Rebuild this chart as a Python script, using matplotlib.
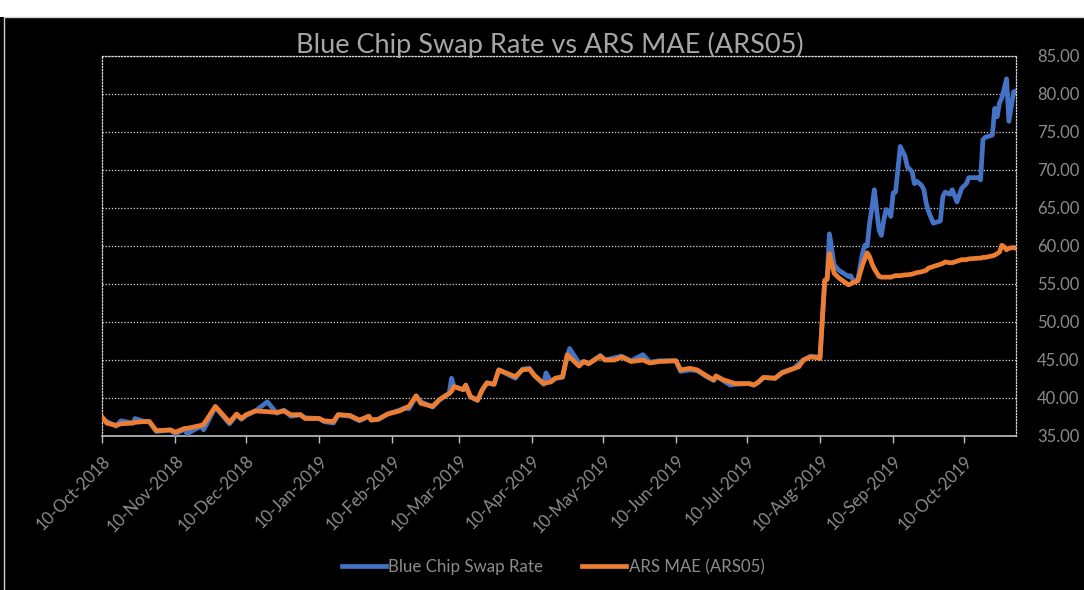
import matplotlib
matplotlib.use("Agg")
import matplotlib.pyplot as plt
import matplotlib.dates as mdates
from matplotlib.patches import Rectangle
import pandas as pd

# values
dates = [
    "2018-10-10", "2018-10-12", "2018-10-16", "2018-10-18", "2018-10-23", "2018-10-24",
    "2018-10-28", "2018-10-30", "2018-11-02", "2018-11-08", "2018-11-10", "2018-11-14",
    "2018-11-15", "2018-11-21", "2018-11-22", "2018-11-27", "2018-12-03", "2018-12-06",
    "2018-12-08", "2018-12-10", "2018-12-14", "2018-12-19", "2018-12-23", "2018-12-26",
    "2018-12-29", "2019-01-02", "2019-01-04", "2019-01-10", "2019-01-12", "2019-01-16",
    "2019-01-18", "2019-01-23", "2019-01-27", "2019-01-31", "2019-02-01", "2019-02-04",
    "2019-02-08", "2019-02-13", "2019-02-15", "2019-02-17", "2019-02-20", "2019-02-22",
    "2019-02-27", "2019-03-02", "2019-03-06", "2019-03-07", "2019-03-08", "2019-03-12",
    "2019-03-13", "2019-03-15", "2019-03-18", "2019-03-20", "2019-03-22", "2019-03-25",
    "2019-03-27", "2019-04-03", "2019-04-06", "2019-04-09", "2019-04-11", "2019-04-15",
    "2019-04-16", "2019-04-18", "2019-04-20", "2019-04-23", "2019-04-25", "2019-04-26",
    "2019-04-30", "2019-05-02", "2019-05-04", "2019-05-09", "2019-05-11", "2019-05-15",
    "2019-05-18", "2019-05-22", "2019-05-27", "2019-05-30", "2019-06-03", "2019-06-10",
    "2019-06-12", "2019-06-16", "2019-06-19", "2019-06-23", "2019-06-26", "2019-06-27",
    "2019-06-30", "2019-07-03", "2019-07-05", "2019-07-11", "2019-07-13", "2019-07-15",
    "2019-07-17", "2019-07-22", "2019-07-25", "2019-07-30", "2019-08-01", "2019-08-03",
    "2019-08-06", "2019-08-09", "2019-08-10", "2019-08-12", "2019-08-13", "2019-08-14",
    "2019-08-16", "2019-08-18", "2019-08-22", "2019-08-23", "2019-08-24", "2019-08-26",
    "2019-08-28", "2019-08-29", "2019-08-30", "2019-08-31", "2019-09-01", "2019-09-02",
    "2019-09-04", "2019-09-05", "2019-09-06", "2019-09-07", "2019-09-08", "2019-09-09",
    "2019-09-10", "2019-09-11", "2019-09-13", "2019-09-15", "2019-09-16", "2019-09-18",
    "2019-09-19", "2019-09-20", "2019-09-22", "2019-09-23", "2019-09-24", "2019-09-25",
    "2019-09-27", "2019-09-30", "2019-10-01", "2019-10-02", "2019-10-04", "2019-10-05",
    "2019-10-07", "2019-10-09", "2019-10-11", "2019-10-12", "2019-10-16", "2019-10-17",
    "2019-10-18", "2019-10-19", "2019-10-22", "2019-10-23", "2019-10-24", "2019-10-25",
    "2019-10-26", "2019-10-27", "2019-10-28", "2019-10-29", "2019-10-31", "2019-11-01",
]
blue_chip = [
    37.4, 36.9, 36.3, 37.0, 36.7, 37.3, 36.9, 36.9, 35.6, 35.8, 35.3, 35.9,
    35.3, 36.3, 35.8, 38.8, 36.6, 37.8, 37.2, 37.7, 38.3, 39.5, 38.0, 38.4,
    37.6, 37.8, 37.4, 37.3, 36.9, 36.7, 37.8, 37.6, 37.0, 37.6, 37.1, 37.2,
    37.9, 38.4, 38.7, 38.6, 40.2, 39.5, 38.8, 39.8, 40.6, 42.6, 41.5, 41.1,
    41.7, 40.1, 39.7, 41.0, 42.0, 41.8, 43.7, 42.6, 43.8, 43.9, 43.0, 41.8,
    43.3, 42.2, 42.6, 42.7, 45.5, 46.5, 44.6, 44.8, 44.5, 45.6, 45.0, 45.3,
    45.5, 44.9, 45.7, 44.7, 44.9, 44.9, 43.5, 43.7, 43.6, 42.8, 42.3, 42.9,
    42.3, 41.7, 41.8, 41.9, 41.7, 42.1, 42.7, 42.6, 43.4, 43.9, 44.5, 45.0,
    45.5, 45.4, 45.3, 55.3, 55.7, 61.6, 57.5, 56.8, 56.0, 56.1, 55.5, 55.5,
    59.0, 60.1, 60.0, 63.0, 65.0, 67.4, 62.1, 61.4, 63.4, 64.8, 64.6, 63.9,
    67.0, 67.1, 73.1, 71.8, 70.4, 69.8, 68.2, 68.5, 68.0, 67.4, 65.6, 64.5,
    63.0, 63.3, 66.5, 67.1, 66.8, 67.4, 65.8, 67.6, 68.2, 69.0, 69.0, 68.7,
    74.0, 74.3, 74.6, 78.1, 77.0, 78.8, 79.5, 80.7, 82.0, 76.4, 80.3, 80.4,
]
ars_mae = [
    37.5, 36.7, 36.4, 36.6, 36.7, 36.8, 36.9, 36.9, 35.7, 35.8, 35.5, 36.0,
    36.0, 36.4, 36.5, 38.9, 36.8, 37.9, 37.3, 37.8, 38.3, 38.2, 38.1, 38.3,
    37.8, 37.8, 37.3, 37.3, 37.0, 36.9, 37.8, 37.7, 37.1, 37.6, 37.1, 37.2,
    37.9, 38.3, 38.6, 38.9, 40.3, 39.3, 38.9, 39.8, 40.6, 40.9, 41.5, 41.1,
    41.7, 40.2, 39.7, 41.1, 42.0, 41.8, 43.7, 42.8, 43.7, 43.8, 43.0, 41.9,
    42.0, 42.1, 42.6, 42.8, 45.7, 45.4, 44.2, 44.8, 44.5, 45.5, 45.0, 45.0,
    45.4, 44.8, 45.0, 44.6, 44.8, 44.9, 43.7, 43.9, 43.7, 42.9, 42.4, 42.9,
    42.4, 42.1, 41.9, 41.9, 41.7, 42.1, 42.7, 42.6, 43.3, 43.9, 44.1, 45.0,
    45.4, 45.3, 45.2, 55.5, 55.6, 59.0, 56.4, 55.8, 54.9, 55.0, 55.2, 55.4,
    57.5, 58.3, 59.1, 58.6, 57.7, 57.0, 56.0, 55.9, 55.9, 55.9, 55.9, 55.9,
    56.0, 56.1, 56.1, 56.2, 56.2, 56.3, 56.4, 56.5, 56.6, 56.7, 56.8, 57.1,
    57.3, 57.6, 57.7, 57.9, 57.8, 57.8, 58.0, 58.2, 58.2, 58.3, 58.4, 58.4,
    58.5, 58.5, 58.7, 58.8, 59.0, 59.2, 60.1, 59.9, 59.5, 59.7, 59.8, 59.7,
]
series_names = ["Blue Chip Swap Rate", "ARS MAE (ARS05)"]
y_ticks = [35, 40, 45, 50, 55, 60, 65, 70, 75, 80, 85]

dt = pd.to_datetime(dates)
W, H = 1084, 590
grey = "#8c8c8c"

plt.rcParams['font.family'] = ['Lato', 'DejaVu Sans']

fig = plt.figure(figsize=(W / 100, H / 100), dpi=100, facecolor="black")
# white strip at top and thin border like the screenshot
fig.patches.append(Rectangle((0, 1 - 17 / H), 1, 17 / H, transform=fig.transFigure,
                             facecolor="white", edgecolor="none", zorder=0))
fig.patches.append(Rectangle((4 / W, -0.01), 1.1, 1 - 17 / H + 0.01, transform=fig.transFigure,
                             facecolor="none", edgecolor="#cfcfcf", linewidth=1, zorder=1))

ax = fig.add_axes([102 / W, 1 - 436 / H, (1016 - 102) / W, (436 - 56) / H])
ax.set_facecolor("black")

ax.plot(dt, blue_chip, color="#4472C4", linewidth=3.4, label=series_names[0],
        solid_joinstyle="round", zorder=3)
ax.plot(dt, ars_mae, color="#ED7D31", linewidth=3.4, label=series_names[1],
        solid_joinstyle="round", zorder=4)

ax.set_ylim(35, 85)
ax.set_yticks(y_ticks)
ax.yaxis.tick_right()
ax.set_yticklabels([f"{v:.2f}" for v in y_ticks])
ax.tick_params(axis="y", length=0, pad=15, labelsize=12, labelcolor=grey)

ax.set_xlim(pd.Timestamp("2018-10-10"), pd.Timestamp("2019-11-01"))
month_ticks = pd.date_range("2018-10-01", "2019-10-10", freq="MS") + pd.Timedelta(days=9)
ax.set_xticks(month_ticks)
ax.xaxis.set_major_formatter(mdates.DateFormatter("%d-%b-%Y"))
ax.tick_params(axis="x", length=5, width=1, color="#bfbfbf", direction="out",
               labelsize=12, labelcolor=grey, pad=7)
for lbl in ax.get_xticklabels():
    lbl.set_rotation(45)
    lbl.set_ha("right")
    lbl.set_rotation_mode("anchor")

ax.grid(axis="y", color="#d9d9d9", linestyle=(0, (1, 1.5)), linewidth=0.9)
for side in ["left", "right", "top"]:
    ax.spines[side].set_color("#d9d9d9")
    ax.spines[side].set_linestyle((0, (1, 1.5)))
    ax.spines[side].set_linewidth(0.9)
ax.spines["bottom"].set_color("#bfbfbf")
ax.spines["bottom"].set_linewidth(1.2)

fig.text(550 / W, 1 - 45 / H, "Blue Chip Swap Rate vs ARS MAE (ARS05)",
         color="#a6a6a6", fontsize=19.5, ha="center", va="center")

leg = fig.legend(loc="center", bbox_to_anchor=(553 / W, 1 - 567 / H), ncol=2,
                 frameon=False, fontsize=12.2, handlelength=2.6, columnspacing=2.3,
                 handletextpad=0.15)
for t in leg.get_texts():
    t.set_color(grey)

fig.savefig("out.png", dpi=100, facecolor=fig.get_facecolor())
